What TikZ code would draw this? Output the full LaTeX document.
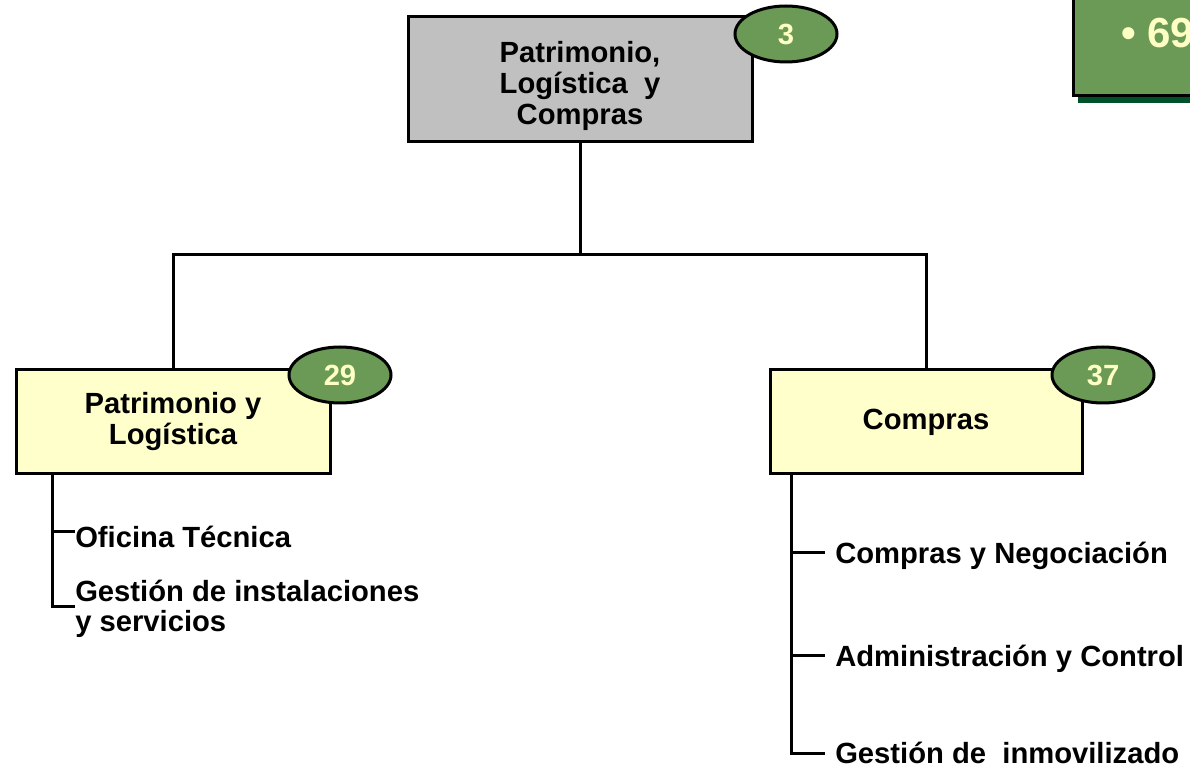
\documentclass[tikz,border=0pt]{standalone}
\usepackage{fontspec}
\setmainfont{Liberation Sans}
\usetikzlibrary{
    shapes.geometric, % Required for the ellipse badges
    positioning,
    calc              % Required for the shifted branch ends
}

\definecolor{unitgray}{HTML}{C0C0C0}
\definecolor{unityellow}{HTML}{FFFFCC}
\definecolor{badgegreen}{HTML}{6A9A56}
\definecolor{badgetext}{HTML}{FFFFC4}
\definecolor{shadowgreen}{HTML}{00502A}

\begin{document}
\begin{tikzpicture}[x=0.75pt, y=-0.75pt,
    link/.style={line width=2.25pt},
    unit/.style={rectangle, draw, line width=2.25pt, inner sep=0pt, align=center,
        font=\bfseries\fontsize{21.9}{23.25}\selectfont},
    badge/.style={ellipse, draw, line width=2.25pt, fill=badgegreen, text=badgetext,
        minimum width=76.5pt, minimum height=42pt, inner sep=0pt,
        font=\bfseries\fontsize{21.9}{24}\selectfont},
    item/.style={inner sep=0pt, anchor=west, text height=19.7pt, text depth=4.4pt,
        font=\bfseries\fontsize{21.9}{22.5}\selectfont}
]
    \useasboundingbox (0,0) rectangle (1190,766);

    % Total headcount box (cut by the page edge)
    \fill[shadowgreen] (1078,-10) rectangle (1210,103);
    \draw[line width=2.25pt, fill=badgegreen] (1073,-10) rectangle (1205,96);
    \node[inner sep=0pt, anchor=base west, text=badgetext,
        font=\bfseries\fontsize{31.5}{36}\selectfont] (total) at (1121,48) {• 69};

    % Units
    \node[unit, fill=unitgray, minimum width=258pt, minimum height=93.75pt] (top) at (580,79) {};
    \node[unit, draw=none] (toptext) at (580,86)
        {Patrimonio,\\Logística\ \ y\\Compras};
    \node[unit, fill=unityellow, minimum width=235.5pt, minimum height=78pt] (pl) at (173,422)
        {Patrimonio y\\Logística};
    \node[unit, fill=unityellow, minimum width=234pt, minimum height=78pt] (co) at (926,422)
        {Compras};

    % Tree connectors
    \coordinate (hub) at (580,255);
    \draw[link] (top.south) -- (hub) -| (pl.north);
    \draw[link] (hub) -| (co.north);

    % Badges
    \node[badge] (b3) at (786,34) {3};
    \node[badge] (b29) at (340,375) {29};
    \node[badge] (b37) at (1103,375) {37};

    % Sections of Patrimonio y Logistica
    \node[item] (ofi) at (75,537) {Oficina Técnica};
    \node[item, anchor=north west, text height=, text depth=, align=left] (gis) at (75,580)
        {Gestión de instalaciones\\y servicios};
    \coordinate (plspine) at ($(pl.south west)+(38,0)$);
    \draw[link] (plspine) |- ($(ofi.west)+(0,-5)$);
    \draw[link] (plspine) |- ($(gis.north west)+(0,27)$);

    % Sections of Compras
    \node[item] (neg) at (835,553) {Compras y Negociación};
    \node[item] (adm) at (835,656) {Administración y Control};
    \node[item] (inm) at (835,753) {Gestión de\ \ inmovilizado};
    \coordinate (cospine) at ($(co.south west)+(23,0)$);
    \foreach \sec in {neg, adm, inm}
        \draw[link] (cospine) |- ($(\sec.west)+(-10,0)$);
\end{tikzpicture}
\end{document}
